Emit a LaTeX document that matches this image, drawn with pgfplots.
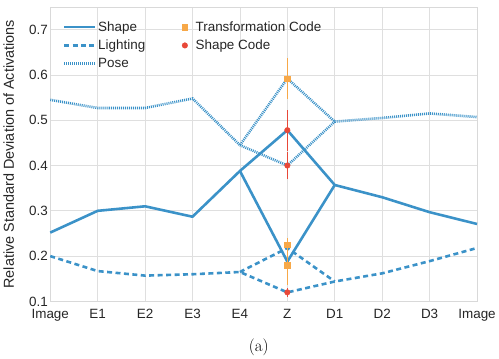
\documentclass[border=0pt]{standalone}
\usepackage{pgfplots}
\pgfplotsset{compat=1.18}
\usepackage{fontspec}
\setmainfont{Latin Modern Roman}
\setsansfont{Liberation Sans}
\definecolor{cblue}{RGB}{59,146,200}
\definecolor{corange}{RGB}{247,168,72}
\definecolor{cred}{RGB}{232,72,56}
\pgfplotsset{
  mylegline/.style={legend image code/.code={\draw[##1] (0pt,0pt) -- (31pt,0pt);}},
}
\begin{document}
\begin{tikzpicture}
\begin{axis}[
  scale only axis,
  width=429pt, height=296pt,
  xmin=0, xmax=9, ymin=0.1, ymax=0.75,
  xtick={0,1,2,3,4,5,6,7,8,9},
  xticklabels={Image,E1,E2,E3,E4,Z,D1,D2,D3,Image},
  ytick={0.1,0.2,0.3,0.4,0.5,0.6,0.7},
  yticklabel style={/pgf/number format/fixed,/pgf/number format/precision=1,/pgf/number format/fixed zerofill, xshift=1pt},
  /pgf/number format/assume math mode=true,
  tick label style={font=\sffamily\fontsize{13.5}{15}\selectfont, text=black!85},
  ylabel={Relative Standard Deviation of Activations},
  ylabel style={font=\sffamily\fontsize{14.5}{16}\selectfont, text=black!85,
    at={(axis description cs:0,0.5)}, anchor=south, yshift=33pt},
  grid=major,
  grid style={gray!25, line width=0.8pt},
  axis line style={gray!30, line width=0.8pt},
  major tick length=0pt,
  xticklabel style={yshift=-4pt},
  legend columns=2,
  legend style={draw=none, fill=none, at={(0.022,0.965)}, anchor=north west,
    font=\sffamily\fontsize{13.5}{15}\selectfont, text=black!85,
    /tikz/every even column/.append style={column sep=35pt},
    row sep=3.2pt},
  legend cell align=left,
  clip=false,
]
% legend
\addlegendimage{cblue, line width=2.6pt, mylegline}
\addlegendentry{Shape}
\addlegendimage{only marks, mark=square*, mark size=2.8pt, corange}
\addlegendentry{\hspace{6pt}Transformation Code}
\addlegendimage{cblue, line width=2.6pt, dash pattern=on 5pt off 3.5pt, mylegline}
\addlegendentry{Lighting}
\addlegendimage{only marks, mark=*, mark size=2.8pt, cred}
\addlegendentry{\hspace{6pt}Shape Code}
\addlegendimage{cblue, line width=2.6pt, dash pattern=on 1pt off 1pt, mylegline}
\addlegendentry{Pose}

% Shape
\addplot[cblue, line width=2.6pt, forget plot, line join=round] coordinates {
(0,0.252)(1,0.300)(2,0.310)(3,0.287)(4,0.388)(5,0.478)(6,0.357)(7,0.330)(8,0.297)(9,0.271)};
\addplot[cblue, line width=2.6pt, forget plot, line join=round] coordinates {
(4,0.388)(5,0.188)(6,0.357)};
% Lighting
\addplot[cblue, line width=2.6pt, dash pattern=on 5pt off 3.5pt, forget plot] coordinates {
(0,0.200)(1,0.167)(2,0.157)(3,0.160)(4,0.165)(5,0.120)(6,0.144)(7,0.162)(8,0.189)(9,0.218)};
\addplot[cblue, line width=2.6pt, dash pattern=on 5pt off 3.5pt, forget plot] coordinates {
(4,0.165)(5,0.218)(6,0.144)};
% Pose
\addplot[cblue, line width=2.6pt, dash pattern=on 1pt off 1pt, forget plot] coordinates {
(0,0.545)(1,0.527)(2,0.527)(3,0.548)(4,0.445)(5,0.592)(6,0.497)(7,0.505)(8,0.515)(9,0.507)};
\addplot[cblue, line width=2.6pt, dash pattern=on 1pt off 1pt, forget plot] coordinates {
(4,0.445)(5,0.400)(6,0.497)};
% error bar ranges (Transformation code, orange)
\addplot[corange, line width=1.5pt, forget plot] coordinates {(5,0.547)(5,0.637)};
\addplot[corange, line width=1.5pt, forget plot] coordinates {(5,0.137)(5,0.240)};
% error bar ranges (Shape code, red)
\addplot[cred, line width=1.5pt, forget plot] coordinates {(5,0.433)(5,0.523)};
\addplot[cred, line width=1.5pt, forget plot] coordinates {(5,0.370)(5,0.430)};
\addplot[cred, line width=1.5pt, forget plot] coordinates {(5,0.110)(5,0.130)};
% Transformation code
\addplot[only marks, mark=square*, mark size=2.8pt, corange, forget plot] coordinates {
(5,0.592) (5,0.225) (5,0.180)};
% Shape code
\addplot[only marks, mark=*, mark size=2.8pt, cred, forget plot] coordinates {
(5,0.478) (5,0.400) (5,0.120)};
\end{axis}
\path ([yshift=7pt]current axis.north);
\node[font=\fontsize{17}{19}\selectfont] at ([xshift=-5pt,yshift=-46pt]current axis.south) {(a)};
\end{tikzpicture}
\end{document}
